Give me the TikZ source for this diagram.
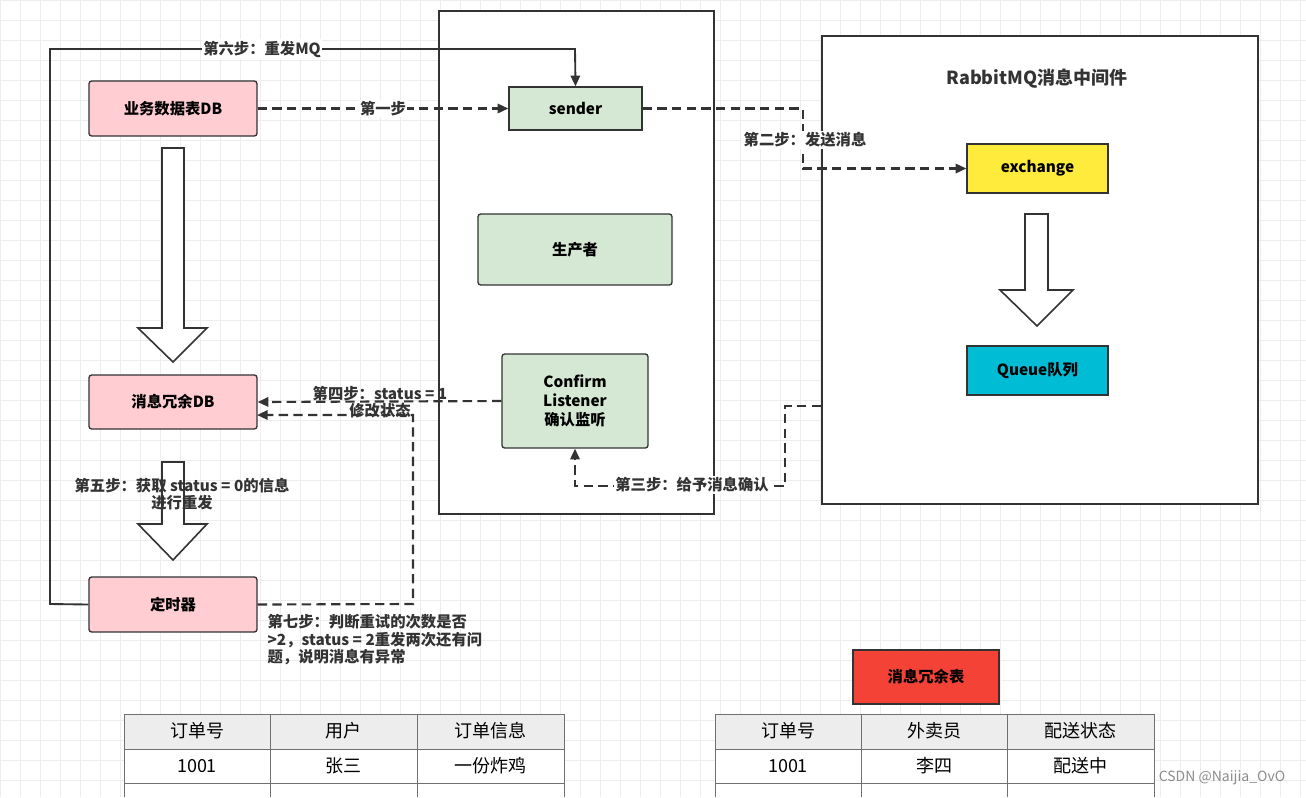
\documentclass[tikz,border=0pt]{standalone}
\usepackage{fontspec}
\setmainfont{Noto Sans CJK SC}
\usetikzlibrary{arrows.meta}
\definecolor{gfill}{HTML}{D5E8D4}
\definecolor{pfill}{HTML}{FFCDD2}
\definecolor{yfill}{HTML}{FFEB3B}
\definecolor{cfill}{HTML}{00BCD4}
\definecolor{rfill}{HTML}{F44336}
\definecolor{edge}{HTML}{333333}
\begin{document}
\begin{tikzpicture}[x=0.75pt,y=-0.75pt,
  box/.style={draw=edge,line width=1pt,rounded corners=2pt,font=\bfseries\fontsize{11.5}{14}\selectfont,align=center,inner sep=0pt},
  dconn/.style={draw=edge,line width=1.6pt,dash pattern=on 7pt off 4pt,-{Triangle[length=8pt,width=7pt]}},
  lbl/.style={fill=white,inner sep=1pt,font=\bfseries\fontsize{11.5}{13}\selectfont,align=center,text=edge},
  big/.style={draw=edge,line width=1.2pt,fill=white},
  cell/.style={draw=edge!70,line width=0.6pt,font=\fontsize{13}{15}\selectfont}]
\useasboundingbox (0,0) rectangle (1306,797);
\fill[white] (0,0) rectangle (1306,797);
\foreach \i in {0,20,...,1300} \draw[black!7,line width=0.5pt] (\i,0)--(\i,797);
\foreach \j in {0,20,...,790} \draw[black!7,line width=0.5pt] (0,\j)--(1306,\j);
% containers
\node[draw=edge,line width=1.2pt,minimum width=275*0.75pt,minimum height=503*0.75pt,anchor=north west,inner sep=0pt,fill=white] (prod) at (438,10) {};
\node[draw=edge,line width=1.2pt,minimum width=436*0.75pt,minimum height=468*0.75pt,anchor=north west,inner sep=0pt,fill=white] (mq) at (821,35) {};
\node[font=\bfseries\fontsize{13.5}{15}\selectfont,text=edge] (mqt) at (1037,79) {RabbitMQ消息中间件};
% nodes
\node[box,fill=gfill,rounded corners=0pt,minimum width=133*0.75pt,minimum height=43*0.75pt] (sender) at (575.5,108.5) {sender};
\node[box,fill=gfill,minimum width=194*0.75pt,minimum height=71*0.75pt] (prodn) at (575,249.5) {生产者};
\node[box,fill=gfill,minimum width=146*0.75pt,minimum height=94*0.75pt] (conf) at (575,401) {Confirm\\Listener\\确认监听};
\node[box,fill=yfill,rounded corners=0pt,minimum width=141*0.75pt,minimum height=49*0.75pt] (ex) at (1037.5,168.5) {exchange};
\node[box,fill=cfill,rounded corners=0pt,minimum width=141*0.75pt,minimum height=49*0.75pt] (queue) at (1037.5,370.5) {Queue队列};
\node[box,fill=pfill,minimum width=168*0.75pt,minimum height=55*0.75pt] (biz) at (173,108.5) {业务数据表DB};
\node[box,fill=pfill,minimum width=168*0.75pt,minimum height=54*0.75pt] (red) at (173,402) {消息冗余DB};
\node[box,fill=pfill,minimum width=168*0.75pt,minimum height=55*0.75pt] (timer) at (173,604.5) {定时器};
\node[box,fill=rfill,rounded corners=0pt,line width=1.2pt,minimum width=146*0.75pt,minimum height=54*0.75pt] (tbl) at (926,677) {消息冗余表};
% hollow arrows
\draw[big] (162,148)--(184,148)--(184,328)--(207,328)--(173,362)--(138,328)--(162,328)--cycle;
\draw[big] (162,462)--(184,462)--(184,524)--(207,524)--(173,560)--(138,524)--(162,524)--cycle;
\draw[big] (1025,214)--(1048,214)--(1048,290)--(1073,290)--(1037,326)--(1000,290)--(1025,290)--cycle;
% connectors
\draw[dconn] (biz.east) -- (sender.west) node[lbl,pos=0.5] {第一步};
\coordinate (c2a) at (803,108.5); \coordinate (c2b) at (803,168.5);
\draw[dconn] (sender.east) -- (c2a) -- (c2b) -- (ex.west);
\node[lbl] (l2) at (805,140) {第二步：发送消息};
\coordinate (c3a) at (785,406); \coordinate (c3b) at (785,486); \coordinate (c3c) at (575,486);
\draw[dconn] (821,406) -- (c3a) -- (c3b) -- (c3c) -- (conf.south);
\node[lbl] (l3) at (692,485) {第三步：给予消息确认};
\draw[dconn] (conf.west) -- (red.east);
\node[lbl,fill=none] (l4) at (380,402) {第四步：status = 1\\修改状态};
\coordinate (c7a) at (413,604); \coordinate (c7b) at (413,415);
\draw[dconn] (timer.east) -- (c7a) -- (c7b) -- (257,415);
\node[lbl,align=left,anchor=north west,fill=none] (l7) at (266,613) {第七步：判断重试的次数是否\\>2，status = 2重发两次还有问\\题，说明消息有异常};
\coordinate (c6a) at (50,604); \coordinate (c6b) at (50,49); \coordinate (c6c) at (575,49);
\draw[draw=edge,line width=1.4pt,-{Triangle[length=8pt,width=7pt]}] (timer.west) -- (c6a) -- (c6b) -- (c6c) -- (sender.north);
\node[lbl] (l6) at (262,49) {第六步：重发MQ};
\node[lbl,fill=none] (l5) at (182,494) {第五步：获取 status = 0的信息\\进行重发};
% tables
\fill[black!7] (124,714) rectangle (564,749);
\fill[black!7] (715,714) rectangle (1154,749);
\fill[white] (124,749) rectangle (564,797);
\fill[white] (715,749) rectangle (1154,797);
\foreach \x in {124,270,417,564} \draw[cell] (\x,714)--(\x,797);
\foreach \x in {715,861,1007,1154} \draw[cell] (\x,714)--(\x,797);
\foreach \y in {714,749,783} {\draw[cell] (124,\y)--(564,\y); \draw[cell] (715,\y)--(1154,\y);}
\node[font=\fontsize{13.5}{15}\selectfont] (a1) at (197,731) {订单号};
\node[font=\fontsize{13.5}{15}\selectfont] (a2) at (343,731) {用户};
\node[font=\fontsize{13.5}{15}\selectfont] (a3) at (490,731) {订单信息};
\node[font=\fontsize{13.5}{15}\selectfont] (b1) at (197,766) {1001};
\node[font=\fontsize{13.5}{15}\selectfont] (b2) at (343,766) {张三};
\node[font=\fontsize{13.5}{15}\selectfont] (b3) at (490,766) {一份炸鸡};
\node[font=\fontsize{13.5}{15}\selectfont] (d1) at (788,731) {订单号};
\node[font=\fontsize{13.5}{15}\selectfont] (d2) at (934,731) {外卖员};
\node[font=\fontsize{13.5}{15}\selectfont] (d3) at (1080,731) {配送状态};
\node[font=\fontsize{13.5}{15}\selectfont] (e1) at (788,766) {1001};
\node[font=\fontsize{13.5}{15}\selectfont] (e2) at (934,766) {李四};
\node[font=\fontsize{13.5}{15}\selectfont] (e3) at (1080,766) {配送中};
\node[text=black!45,font=\fontsize{10.5}{12}\selectfont] (wm) at (1222,778) {CSDN @Naijia\_OvO};
\end{tikzpicture}
\end{document}
